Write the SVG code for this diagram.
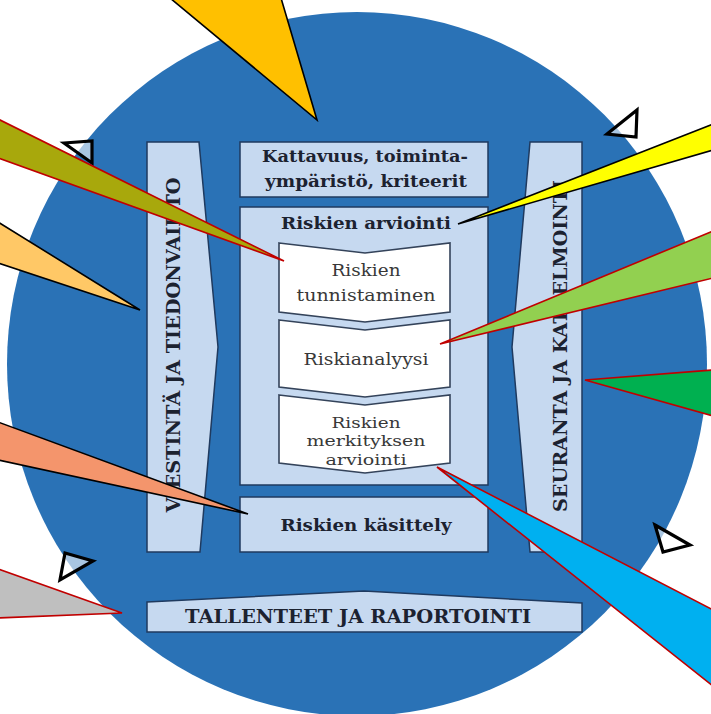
<svg xmlns="http://www.w3.org/2000/svg" width="711" height="714" viewBox="0 0 711 714">
<style>
.band{fill:#c6d9f0;stroke:#1f3a5f;stroke-width:1.5}
.step{fill:#ffffff;stroke:#34435a;stroke-width:1.6}
.tb{font-family:"DejaVu Serif","Liberation Serif",serif;font-weight:bold;fill:#1c2230}
.tr{font-family:"DejaVu Serif","Liberation Serif",serif;fill:#383838}
.tri{fill:#ffffff;fill-opacity:0.6;stroke:#000;stroke-width:3.2;stroke-linejoin:miter}
.cb{stroke:#000;stroke-width:1.6;stroke-linejoin:miter}
.cr{stroke:#c00000;stroke-width:1.6;stroke-linejoin:miter}
</style>
<rect width="711" height="714" fill="#ffffff"/>
<g id="circle">
<ellipse cx="357" cy="364" rx="350" ry="352" fill="#2a72b6"/>
</g>
<g id="cycle-arrowheads">
<polygon class="tri" points="64,143 92,141 92,163"/>
<polygon class="tri" points="607,134 637,110 636,137"/>
<polygon class="tri" points="655,525 690,545 663,552"/>
<polygon class="tri" points="65,553 93,561 60,580"/>
</g>
<g id="viestinta">
<polygon class="band" points="147,142 199,142 218,347 200,552 147,552"/>
<text class="tb" font-size="19" transform="translate(180,345) rotate(-90)" text-anchor="middle" textLength="335" lengthAdjust="spacingAndGlyphs">VIESTINTÄ JA TIEDONVAIHTO</text>
</g>
<g id="seuranta">
<polygon class="band" points="530,142 582,142 582,552 530,552 512,347"/>
<text class="tb" font-size="19" transform="translate(567,346) rotate(-90)" text-anchor="middle" textLength="332" lengthAdjust="spacingAndGlyphs">SEURANTA JA KATSELMOINTI</text>
</g>
<g id="kattavuus">
<rect class="band" x="240" y="142" width="248" height="55"/>
<text class="tb" font-size="17" x="365" y="162" text-anchor="middle" textLength="206" lengthAdjust="spacingAndGlyphs">Kattavuus, toiminta-</text>
<text class="tb" font-size="17" x="366" y="187" text-anchor="middle" textLength="202" lengthAdjust="spacingAndGlyphs">ympäristö, kriteerit</text>
</g>
<g id="arviointi">
<rect class="band" x="240" y="207" width="248" height="278"/>
<text class="tb" font-size="17" x="366" y="229" text-anchor="middle" textLength="170" lengthAdjust="spacingAndGlyphs">Riskien arviointi</text>
</g>
<g id="tunnistaminen">
<polygon class="step" points="279,243 365,253 450,243 450,312 365,322 279,312"/>
<text class="tr" font-size="17" x="366" y="276" text-anchor="middle" textLength="69" lengthAdjust="spacingAndGlyphs">Riskien</text>
<text class="tr" font-size="17" x="366" y="301" text-anchor="middle" textLength="139" lengthAdjust="spacingAndGlyphs">tunnistaminen</text>
</g>
<g id="analyysi">
<polygon class="step" points="279,320 365,330 450,320 450,387 365,397 279,387"/>
<text class="tr" font-size="17" x="366" y="365" text-anchor="middle" textLength="125" lengthAdjust="spacingAndGlyphs">Riskianalyysi</text>
</g>
<g id="merkitys">
<polygon class="step" points="279,395 365,405 450,395 450,463 365,473 279,463"/>
<text class="tr" font-size="15.5" x="366" y="428" text-anchor="middle" textLength="69" lengthAdjust="spacingAndGlyphs">Riskien</text>
<text class="tr" font-size="15.5" x="366" y="446" text-anchor="middle" textLength="119" lengthAdjust="spacingAndGlyphs">merkityksen</text>
<text class="tr" font-size="15.5" x="366" y="465" text-anchor="middle" textLength="81" lengthAdjust="spacingAndGlyphs">arviointi</text>
</g>
<g id="kasittely">
<rect class="band" x="240" y="497" width="248" height="55"/>
<text class="tb" font-size="17" x="366" y="531" text-anchor="middle" textLength="171" lengthAdjust="spacingAndGlyphs">Riskien käsittely</text>
</g>
<g id="tallenteet">
<polygon class="band" points="147,602 364,591 582,603 582,632 147,632"/>
<text class="tb" font-size="18" x="358" y="623" text-anchor="middle" textLength="346" lengthAdjust="spacingAndGlyphs">TALLENTEET JA RAPORTOINTI</text>
</g>
<g id="connectors">
<polygon class="cb" fill="#ffc000" points="170,-2 281,-2 317,120"/>
<polygon class="cr" fill="#a8a80c" points="-2,119 284,261 -2,158"/>
<polygon class="cb" fill="#ffc866" points="-2,222 140,310 -2,263"/>
<polygon class="cb" fill="#f4956c" points="-2,422 248,514 -2,460"/>
<polygon class="cr" fill="#bfbfbf" points="-2,569 122,613 -2,618"/>
<polygon class="cb" fill="#ffff00" points="713,124 458,224 713,150"/>
<polygon class="cr" fill="#92d050" points="713,231 440,344 713,278"/>
<polygon class="cr" fill="#00b050" points="713,370 585,380 713,416"/>
<polygon class="cr" fill="#00b0f0" points="713,610 437,467 713,686"/>
</g>
</svg>
